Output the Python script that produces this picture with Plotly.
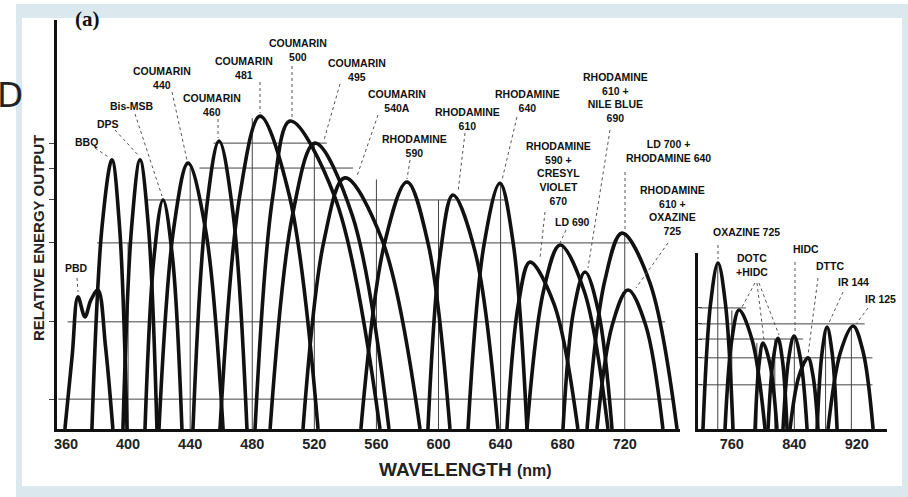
import plotly.graph_objects as go

# ---- tuning curves, visible/near-IR range (wavelength nm, relative output) ----
PBD_NM = [359.3, 364.0, 367.7, 372.2, 376.0, 380.6, 385.5, 390.2]
PBD_OUT = [0, 18, 32.3, 27.4, 31.5, 34.0, 20, 0]
BBQ_NM = [376.7, 383.2, 389.6, 394.5, 399.3]
BBQ_OUT = [0, 49.4, 65.8, 49.4, 0]
DPS_NM = [396.7, 402.2, 407.7, 413.2, 418.6]
DPS_OUT = [0, 49.0, 65.8, 49.0, 0]
BISMSB_NM = [410.9, 416.7, 422.5, 428.6, 434.7]
BISMSB_OUT = [0, 42, 56, 42, 0]
C440_NM = [419.9, 429.3, 438.6, 449.9, 461.2]
C440_OUT = [0, 48.8, 65.0, 48.8, 0]
C460_NM = [441.8, 450.2, 458.6, 467.6, 476.6]
C460_OUT = [0, 52.8, 70.4, 52.8, 0]
C481_NM = [459.2, 472.1, 485.0, 503.7, 522.4]
C481_OUT = [0, 57.4, 76.5, 57.4, 0]
C500_NM = [481.8, 493.1, 504.4, 533.4, 562.3]
C500_OUT = [0, 56.5, 75.3, 56.5, 0]
C495_NM = [491.5, 506.0, 520.4, 544.3, 568.1]
C495_OUT = [0, 52.4, 69.9, 52.4, 0]
C540A_NM = [512.7, 526.2, 539.7, 563.9, 588.1]
C540A_OUT = [0, 46.0, 61.4, 46.0, 0]
RH590_NM = [550.0, 565.0, 579.7, 593.5, 607.4]
RH590_OUT = [0, 45.0, 60.4, 45.0, 0]
RH610_NM = [593.2, 601.2, 609.3, 623.8, 638.3]
RH610_OUT = [0, 43.0, 57.2, 43.0, 0]
RH640_NM = [619.0, 629.3, 639.6, 648.3, 657.0]
RH640_OUT = [0, 45.0, 60.1, 45.0, 0]
RH590CV_NM = [644.1, 651.5, 658.9, 674.4, 689.8]
RH590CV_OUT = [0, 30.6, 40.8, 30.6, 0]
LD690_NM = [657.0, 667.7, 678.3, 693.8, 709.2]
LD690_OUT = [0, 33.8, 45.0, 33.8, 0]
RH610NB_NM = [680.2, 687.0, 694.4, 703.0, 711.8]
RH610NB_OUT = [0, 28.8, 38.4, 28.8, 0]
LD700_NM = [695.7, 707.0, 718.2, 736.0, 753.7]
LD700_OUT = [0, 36.0, 47.9, 36.0, 0]
RH610OX_NM = [702.1, 712.0, 722.1, 733.4, 744.6]
RH610OX_OUT = [0, 25.5, 34.0, 25.5, 0]

# ---- tuning curves, infrared range ----
OX725_NM = [723.1, 732.7, 742.3, 751.9, 761.5]
OX725_OUT = [0, 30.5, 40.6, 30.5, 0]
DOTC_A_NM = [751.3, 760.0, 769.2, 785.9, 802.5]
DOTC_A_OUT = [0, 21.8, 29.1, 21.8, 0]
DOTC_B_NM = [789.7, 794.8, 799.9, 808.9, 817.8]
DOTC_B_OUT = [0, 15.8, 21.0, 15.8, 0]
DOTC_C_NM = [806.3, 812.7, 819.1, 824.9, 830.7]
DOTC_C_OUT = [0, 16.6, 22.2, 16.6, 0]
HIDC_NM = [825.5, 832.6, 839.6, 848.0, 856.3]
HIDC_OUT = [0, 17.0, 22.7, 17.0, 0]
DTTC_NM = [834.5, 846.0, 857.5, 863.9, 870.3]
DTTC_OUT = [0, 13.0, 17.4, 13.0, 0]
IR144_NM = [869.1, 875.5, 881.9, 888.3, 894.7]
IR144_OUT = [0, 18.7, 24.9, 18.7, 0]
IR125_NM = [883.1, 899.2, 915.2, 928.0, 940.8]
IR125_OUT = [0, 18.9, 25.2, 18.9, 0]

MAIN_TICKS = [360, 400, 440, 480, 520, 560, 600, 640, 680, 720]
IR_TICKS = [760, 840, 920]
MAIN_GRID_LEVELS = [7.3, 26.2, 45.5, 56.0, 63.8, 69.9]
IR_GRID_LEVELS = [10.8, 17.4, 22.0, 25.7, 29.6]

main_curves = [
    (PBD_NM, PBD_OUT), (BBQ_NM, BBQ_OUT), (DPS_NM, DPS_OUT), (BISMSB_NM, BISMSB_OUT),
    (C440_NM, C440_OUT), (C460_NM, C460_OUT), (C481_NM, C481_OUT), (C500_NM, C500_OUT),
    (C495_NM, C495_OUT), (C540A_NM, C540A_OUT), (RH590_NM, RH590_OUT), (RH610_NM, RH610_OUT),
    (RH640_NM, RH640_OUT), (RH590CV_NM, RH590CV_OUT), (LD690_NM, LD690_OUT),
    (RH610NB_NM, RH610NB_OUT), (LD700_NM, LD700_OUT), (RH610OX_NM, RH610OX_OUT),
]
ir_curves = [
    (OX725_NM, OX725_OUT), (DOTC_A_NM, DOTC_A_OUT), (DOTC_B_NM, DOTC_B_OUT),
    (DOTC_C_NM, DOTC_C_OUT), (HIDC_NM, HIDC_OUT), (DTTC_NM, DTTC_OUT),
    (IR144_NM, IR144_OUT), (IR125_NM, IR125_OUT),
]

# ---- page geometry (pixels) ----
W, H = 908, 497
L, R, T, B = 57, 21, 20, 68
PW, PH = W - L - R, H - T - B


def fx(x):
    return (x - L) / PW


def fy(y):
    return (H - B - y) / PH


INK = "#111111"
GRID = "#444444"
FRAME = "#dbe8ed"
FONT = "Liberation Sans, Arial, sans-serif"

fig = go.Figure()

for xs, ys in main_curves:
    fig.add_trace(go.Scatter(x=xs, y=ys, mode="lines", xaxis="x", yaxis="y",
                             line=dict(color=INK, width=3.6, shape="spline", smoothing=1.0),
                             hoverinfo="skip", showlegend=False))
for xs, ys in ir_curves:
    fig.add_trace(go.Scatter(x=xs, y=ys, mode="lines", xaxis="x2", yaxis="y2",
                             line=dict(color=INK, width=3.6, shape="spline", smoothing=1.0),
                             hoverinfo="skip", showlegend=False))

shapes = []
# light blue frame with white card inside
shapes.append(dict(type="rect", xref="paper", yref="paper", x0=fx(16), x1=fx(912),
                   y0=fy(501), y1=fy(4), fillcolor=FRAME, line=dict(width=0), layer="below"))
shapes.append(dict(type="rect", xref="paper", yref="paper", x0=fx(22), x1=fx(902),
                   y0=fy(486), y1=fy(18), fillcolor="white", line=dict(width=0), layer="below"))

# grid segments, main panel (level, from nm, to nm)
main_hgrid = [(7.3, 355, 751), (26.2, 361, 746), (45.5, 380, 723), (56.0, 412, 643),
              (63.8, 446, 545), (69.9, 455, 528)]
for lv, a, b in main_hgrid:
    shapes.append(dict(type="line", xref="x", yref="y", x0=a, x1=b, y0=lv, y1=lv,
                       line=dict(color=GRID, width=1), layer="below"))
main_vgrid = [(400, 45.5), (440, 63.8), (480, 76.0), (520, 70.0), (560, 61.0),
              (600, 56.0), (640, 60.0), (680, 45.0), (720, 47.9)]
for xv, top in main_vgrid:
    shapes.append(dict(type="line", xref="x", yref="y", x0=xv, x1=xv, y0=0, y1=top,
                       line=dict(color=GRID, width=1), layer="below"))
ir_hgrid = [(29.6, 718, 778), (25.7, 718, 930), (22.0, 718, 851), (17.4, 718, 940),
            (10.8, 718, 940)]
for lv, a, b in ir_hgrid:
    shapes.append(dict(type="line", xref="x2", yref="y2", x0=a, x1=b, y0=lv, y1=lv,
                       line=dict(color=GRID, width=1), layer="below"))
ir_vgrid = [(742, 40), (760, 29), (792, 21), (815, 22), (840, 22.7), (880, 24.9), (913, 25.2)]
for xv, top in ir_vgrid:
    shapes.append(dict(type="line", xref="x2", yref="y2", x0=xv, x1=xv, y0=0, y1=top,
                       line=dict(color=GRID, width=1), layer="below"))

# dye labels: (text, centre x px, centre y px, leader from px, leader to px)
labels = [
    ("PBD", 76, 268, (77, 278), (78, 292)),
    ("BBQ", 86, 142, (95, 148), (110, 158)),
    ("DPS", 108, 124, (115, 130), (139, 156)),
    ("Bis-MSB", 132, 106, (135, 114), (162, 196)),
    ("COUMARIN<br>440", 162, 78, (172, 92), (187, 160)),
    ("COUMARIN<br>460", 212, 105, (218, 119), (218, 138)),
    ("COUMARIN<br>481", 244, 68, (260, 82), (260, 113)),
    ("COUMARIN<br>500", 298, 50, (292, 66), (292, 118)),
    ("COUMARIN<br>495", 357, 70, (340, 84), (324, 140)),
    ("COUMARIN<br>540A", 397, 101, (378, 115), (357, 176)),
    ("RHODAMINE<br>590", 414, 146, (410, 160), (407, 179)),
    ("RHODAMINE<br>610", 467, 119, (465, 133), (458, 192)),
    ("RHODAMINE<br>640", 527, 101, (517, 117), (502, 180)),
    ("RHODAMINE<br>590 +<br>CRESYL<br>VIOLET<br>670", 558, 173, (545, 212), (540, 258)),
    ("LD 690", 572, 222, (566, 230), (560, 243)),
    ("RHODAMINE<br>610 +<br>NILE BLUE<br>690", 615, 97, (610, 130), (588, 268)),
    ("LD 700 +<br>RHODAMINE 640", 668, 151, (625, 172), (625, 229)),
    ("RHODAMINE<br>610 +<br>OXAZINE<br>725", 672, 210, (668, 243), (636, 288)),
    ("OXAZINE 725", 746, 232, (718, 245), (718, 259)),
    ("DOTC<br>+HIDC", 752, 265, (755, 283), (742, 307)),
    ("HIDC", 806, 249, (795, 262), (795, 333)),
    ("DTTC", 830, 266, (818, 278), (808, 355)),
    ("IR 144", 853, 282, (843, 292), (828, 325)),
    ("IR 125", 880, 299, (868, 308), (856, 324)),
]
annotations = []
for text, cx, cy, p0, p1 in labels:
    annotations.append(dict(text=text, x=fx(cx), y=fy(cy), xref="paper", yref="paper",
                            showarrow=False, xanchor="center", yanchor="middle",
                            font=dict(family=FONT, size=10.5, color=INK, weight="bold"),
                            align="center"))
    shapes.append(dict(type="line", xref="paper", yref="paper", x0=fx(p0[0]), y0=fy(p0[1]),
                       x1=fx(p1[0]), y1=fy(p1[1]),
                       line=dict(color="#555555", width=1, dash="dot")))
# extra leaders of the DOTC + HIDC group
for p0, p1 in [((757, 283), (764, 340)), ((759, 283), (779, 335))]:
    shapes.append(dict(type="line", xref="paper", yref="paper", x0=fx(p0[0]), y0=fy(p0[1]),
                       x1=fx(p1[0]), y1=fy(p1[1]),
                       line=dict(color="#555555", width=1, dash="dot")))

annotations += [
    dict(text="(a)", x=fx(87), y=fy(19), xref="paper", yref="paper", showarrow=False,
         xanchor="center", yanchor="middle",
         font=dict(family="Liberation Serif, Times New Roman, serif", size=21, color=INK,
                   weight="bold")),
    dict(text="RELATIVE ENERGY OUTPUT", x=fx(38), y=fy(238), xref="paper", yref="paper",
         showarrow=False, textangle=-90, xanchor="center", yanchor="middle",
         font=dict(family=FONT, size=15, color="#222222", weight="bold")),
    dict(text="WAVELENGTH <span style='font-size:16px'>(nm)</span>", x=fx(465), y=fy(469),
         xref="paper", yref="paper", showarrow=False, xanchor="center", yanchor="middle",
         font=dict(family=FONT, size=19, color="#222222", weight="bold")),
    dict(text="D", x=fx(25), y=fy(95), xref="paper", yref="paper", showarrow=False,
         xanchor="right", yanchor="middle",
         font=dict(family="DejaVu Sans", size=34, color="#222222")),
]

tickfont = dict(family=FONT, size=14.5, color="#222222", weight="bold")
fig.update_layout(
    width=W, height=H,
    margin=dict(l=L, r=R, t=T, b=B),
    paper_bgcolor="white",
    plot_bgcolor="rgba(0,0,0,0)",
    showlegend=False,
    xaxis=dict(domain=[0, fx(680)], range=[354.2, 755.6], anchor="y",
               tickvals=MAIN_TICKS, ticks="", showgrid=False, zeroline=False,
               showline=True, linecolor=INK, linewidth=3, tickfont=tickfont),
    yaxis=dict(domain=[0, 1], range=[0, 100], anchor="x",
               tickvals=MAIN_GRID_LEVELS, ticks="outside", ticklen=5, tickcolor=GRID,
               showticklabels=False, showgrid=False, zeroline=False,
               showline=True, linecolor=INK, linewidth=3),
    xaxis2=dict(domain=[fx(698), 1], range=[716.7, 958.6], anchor="y2",
                tickvals=IR_TICKS, ticks="", showgrid=False, zeroline=False,
                showline=True, linecolor=INK, linewidth=3, tickfont=tickfont),
    yaxis2=dict(domain=[0, fy(253)], range=[0, 43.03], anchor="x2",
                tickvals=IR_GRID_LEVELS, ticks="inside", ticklen=4, tickcolor=GRID,
                showticklabels=False, showgrid=False, zeroline=False,
                showline=True, linecolor=INK, linewidth=3),
    shapes=shapes,
    annotations=annotations,
)

fig.write_html("out.html")
